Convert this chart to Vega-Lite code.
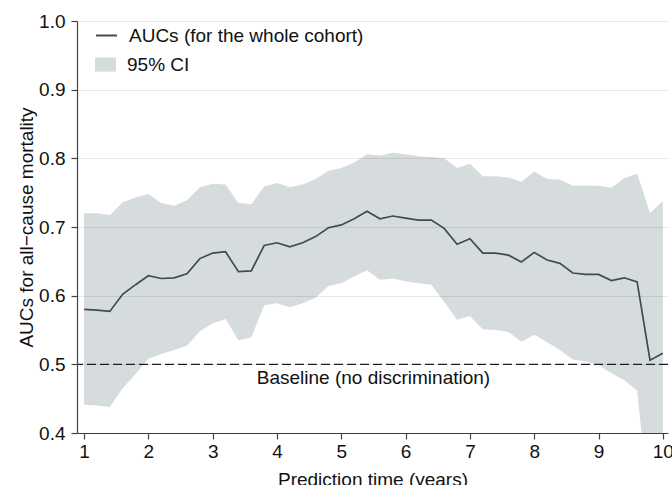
{
  "$schema": "https://vega.github.io/schema/vega-lite/v6.json",
  "width": 591,
  "height": 412,
  "autosize": {"type": "none"},
  "padding": {"left": 77, "top": 21, "right": 4, "bottom": 52},
  "background": "white",
  "config": {
    "view": {"stroke": null},
    "font": "Liberation Sans",
    "axis": {
      "domainColor": "#444",
      "domainWidth": 1.2,
      "tickColor": "#444",
      "tickWidth": 1.2,
      "tickSize": 6,
      "labelFont": "Liberation Sans",
      "labelFontSize": 19,
      "labelColor": "#111",
      "titleFont": "Liberation Sans",
      "titleFontSize": 19,
      "titleFontWeight": "normal",
      "titleColor": "#111"
    },
    "legend": {
      "labelFont": "Liberation Sans",
      "labelFontSize": 19,
      "labelColor": "#111",
      "labelLimit": 0
    }
  },
  "data": {
    "values": [
      {"t": 1.0, "auc": 0.580, "hi": 0.720, "lo": 0.441},
      {"t": 1.2, "auc": 0.579, "hi": 0.720, "lo": 0.440},
      {"t": 1.4, "auc": 0.577, "hi": 0.717, "lo": 0.438},
      {"t": 1.6, "auc": 0.602, "hi": 0.736, "lo": 0.465},
      {"t": 1.8, "auc": 0.616, "hi": 0.743, "lo": 0.486},
      {"t": 2.0, "auc": 0.629, "hi": 0.748, "lo": 0.508},
      {"t": 2.2, "auc": 0.625, "hi": 0.735, "lo": 0.515},
      {"t": 2.4, "auc": 0.626, "hi": 0.731, "lo": 0.521},
      {"t": 2.6, "auc": 0.632, "hi": 0.739, "lo": 0.527},
      {"t": 2.8, "auc": 0.654, "hi": 0.758, "lo": 0.548},
      {"t": 3.0, "auc": 0.662, "hi": 0.763, "lo": 0.560},
      {"t": 3.2, "auc": 0.664, "hi": 0.762, "lo": 0.566},
      {"t": 3.4, "auc": 0.635, "hi": 0.735, "lo": 0.535},
      {"t": 3.6, "auc": 0.636, "hi": 0.733, "lo": 0.539},
      {"t": 3.8, "auc": 0.673, "hi": 0.759, "lo": 0.586},
      {"t": 4.0, "auc": 0.677, "hi": 0.764, "lo": 0.589},
      {"t": 4.2, "auc": 0.671, "hi": 0.758, "lo": 0.583},
      {"t": 4.4, "auc": 0.677, "hi": 0.762, "lo": 0.589},
      {"t": 4.6, "auc": 0.686, "hi": 0.770, "lo": 0.597},
      {"t": 4.8, "auc": 0.699, "hi": 0.782, "lo": 0.614},
      {"t": 5.0, "auc": 0.703, "hi": 0.786, "lo": 0.618},
      {"t": 5.2, "auc": 0.712, "hi": 0.794, "lo": 0.628},
      {"t": 5.4, "auc": 0.723, "hi": 0.806, "lo": 0.637},
      {"t": 5.6, "auc": 0.712, "hi": 0.804, "lo": 0.623},
      {"t": 5.8, "auc": 0.716, "hi": 0.808, "lo": 0.625},
      {"t": 6.0, "auc": 0.713, "hi": 0.806, "lo": 0.621},
      {"t": 6.2, "auc": 0.710, "hi": 0.803, "lo": 0.618},
      {"t": 6.4, "auc": 0.710, "hi": 0.802, "lo": 0.616},
      {"t": 6.6, "auc": 0.698, "hi": 0.800, "lo": 0.591},
      {"t": 6.8, "auc": 0.675, "hi": 0.786, "lo": 0.565},
      {"t": 7.0, "auc": 0.683, "hi": 0.792, "lo": 0.570},
      {"t": 7.2, "auc": 0.662, "hi": 0.774, "lo": 0.551},
      {"t": 7.4, "auc": 0.662, "hi": 0.774, "lo": 0.550},
      {"t": 7.6, "auc": 0.659, "hi": 0.772, "lo": 0.547},
      {"t": 7.8, "auc": 0.649, "hi": 0.766, "lo": 0.533},
      {"t": 8.0, "auc": 0.663, "hi": 0.781, "lo": 0.543},
      {"t": 8.2, "auc": 0.652, "hi": 0.770, "lo": 0.532},
      {"t": 8.4, "auc": 0.647, "hi": 0.769, "lo": 0.521},
      {"t": 8.6, "auc": 0.633, "hi": 0.760, "lo": 0.507},
      {"t": 8.8, "auc": 0.631, "hi": 0.760, "lo": 0.504},
      {"t": 9.0, "auc": 0.631, "hi": 0.760, "lo": 0.499},
      {"t": 9.2, "auc": 0.622, "hi": 0.757, "lo": 0.487},
      {"t": 9.4, "auc": 0.626, "hi": 0.771, "lo": 0.477},
      {"t": 9.6, "auc": 0.620, "hi": 0.778, "lo": 0.462},
      {"t": 9.8, "auc": 0.506, "hi": 0.720, "lo": 0.280},
      {"t": 10.0, "auc": 0.516, "hi": 0.738, "lo": 0.300}
    ]
  },
  "layer": [
    {
      "mark": {"type": "area", "clip": true},
      "encoding": {
        "x": {
          "field": "t", "type": "quantitative",
          "scale": {"domain": [0.89, 10.08], "nice": false, "zero": false},
          "axis": {"values": [1,2,3,4,5,6,7,8,9,10], "format": "d", "grid": false, "labelPadding": 3, "title": "Prediction time (years)", "titlePadding": 9}
        },
        "y": {
          "field": "lo", "type": "quantitative",
          "scale": {"domain": [0.4, 1.0], "nice": false, "zero": false},
          "axis": {"values": [0.4,0.5,0.6,0.7,0.8,0.9,1.0], "format": ".1f", "grid": true, "gridColor": "#000", "gridOpacity": 0.09, "gridWidth": 1, "zindex": 1, "labelPadding": 6, "title": "AUCs for all−cause mortality", "titlePadding": 2}
        },
        "y2": {"field": "hi"},
        "fill": {
          "datum": "95% CI",
          "type": "nominal",
          "scale": {"range": ["#d6dcdd"]},
          "legend": {"title": null, "orient": "none", "legendX": 18, "legendY": 33, "padding": 0, "symbolType": "M-1,-0.68H1V0.68H-1Z", "symbolSize": 441, "symbolStrokeWidth": 0, "symbolOpacity": 1, "labelOffset": 11}
        }
      }
    },
    {
      "data": {"values": [{"base": 0.5}]},
      "mark": {"type": "rule", "color": "#222", "strokeWidth": 1.3, "strokeDash": [9, 4]},
      "encoding": {"y": {"field": "base", "type": "quantitative"}}
    },
    {
      "data": {"values": [{"base": 0.5, "mid": 5.5, "label": "Baseline (no discrimination)"}]},
      "mark": {"type": "text", "fontSize": 19, "font": "Liberation Sans", "color": "#111", "align": "center", "baseline": "alphabetic", "dy": 20},
      "encoding": {
        "x": {"field": "mid", "type": "quantitative"},
        "y": {"field": "base", "type": "quantitative"},
        "text": {"field": "label"}
      }
    },
    {
      "mark": {"type": "line", "strokeWidth": 1.7, "clip": true},
      "encoding": {
        "x": {"field": "t", "type": "quantitative"},
        "y": {"field": "auc", "type": "quantitative"},
        "stroke": {
          "datum": "AUCs (for the whole cohort)",
          "type": "nominal",
          "scale": {"range": ["#3c4d55"]},
          "legend": {"title": null, "orient": "none", "legendX": 18, "legendY": 3, "padding": 0, "symbolType": "stroke", "symbolSize": 441, "symbolStrokeWidth": 2, "labelOffset": 11}
        }
      }
    }
  ]
}
